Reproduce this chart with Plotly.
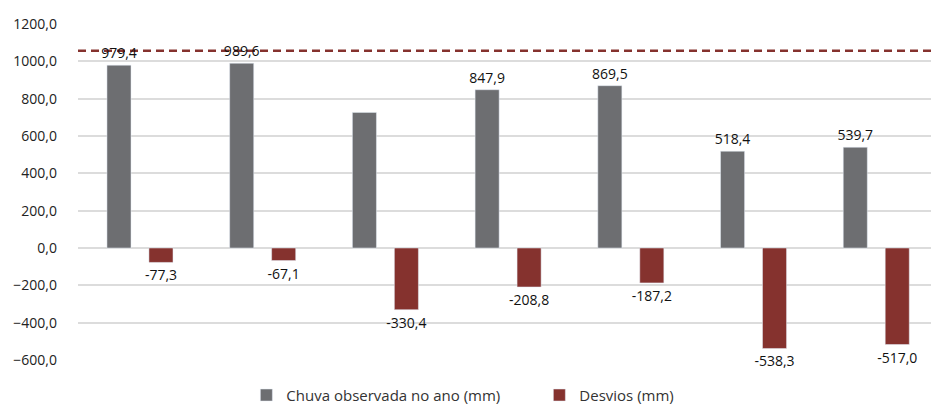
import plotly.graph_objects as go

categories = ["1", "2", "3", "4", "5", "6", "7"]
chuva = [979.4, 989.6, 726.3, 847.9, 869.5, 518.4, 539.7]
chuva_label = [True, True, False, True, True, True, True]
desvios = [-77.3, -67.1, -330.4, -208.8, -187.2, -538.3, -517.0]
media = 1056.7
y_ticks = [-600, -400, -200, 0, 200, 400, 600, 800, 1000, 1200]

GREY = "#6d6e71"
RED = "#85322e"
FONT = "Open Sans"

fig = go.Figure()
fig.add_trace(go.Bar(
    x=categories, y=chuva, name="Chuva observada no ano (mm)",
    marker_color=GREY, width=0.196, offset=-0.264,
    texttemplate=["%{y:.1f}" if s else "" for s in chuva_label],
    textposition="outside", cliponaxis=False, constraintext="none",
    textfont=dict(size=14, color="#111", family=FONT),
))
fig.add_trace(go.Bar(
    x=categories, y=desvios, name="Desvios (mm)",
    marker_color=RED, width=0.196, offset=0.078,
    texttemplate="%{y:.1f}",
    textposition="outside", cliponaxis=False, constraintext="none",
    textfont=dict(size=14, color="#111", family=FONT),
))
fig.add_shape(type="line", xref="paper", yref="y", x0=0, x1=1, y0=media, y1=media,
              line=dict(color=RED, width=2.5, dash="8px,5px"), layer="below")

fig.update_layout(
    width=931, height=400,
    margin=dict(l=70, r=2, t=16, b=48, autoexpand=False),
    barmode="overlay",
    separators=",.",
    plot_bgcolor="white", paper_bgcolor="white",
    font=dict(family=FONT, size=14, color="#222"),
    xaxis=dict(showticklabels=False, showgrid=False, zeroline=False, range=[-0.5, 6.5],
               automargin=False),
    yaxis=dict(range=[-600, 1200], tickvals=y_ticks, tickformat=".1f", automargin=False,
               showgrid=True, gridcolor="#dcdcdc", gridwidth=1.5,
               zeroline=True, zerolinecolor="#dcdcdc", zerolinewidth=1.5,
               ticks="", ticklabelstandoff=20, tickfont=dict(size=14, color="#222")),
    legend=dict(orientation="h", xref="paper", yref="paper",
                x=0.196, xanchor="left", y=-0.105, yanchor="middle",
                entrywidth=248, entrywidthmode="pixels",
                font=dict(size=15, color="#333"), traceorder="normal"),
    showlegend=True,
)

fig.write_html("out.html")
